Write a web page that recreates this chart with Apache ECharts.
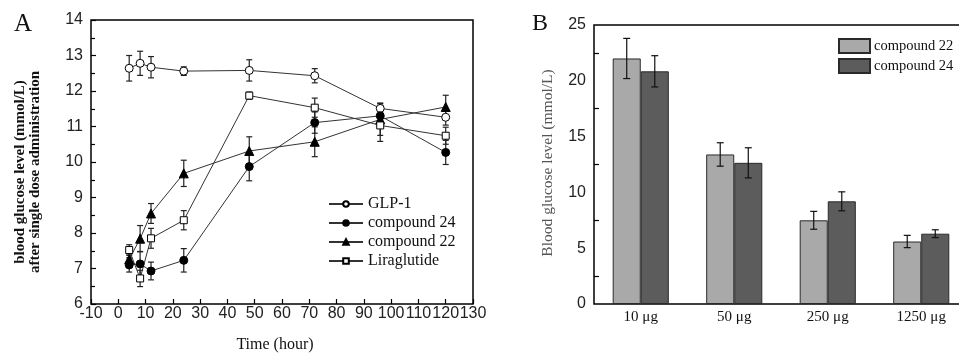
<!DOCTYPE html>
<html>
<head>
<meta charset="utf-8">
<script src="https://cdn.jsdelivr.net/npm/echarts@6/dist/echarts.min.js"></script>
<style>html,body{margin:0;padding:0;background:#fff}#c{width:959px;height:354px}</style>
</head>
<body>
<div id="c"></div>
<script>
// ---- Panel A data: time (hour), mean, error ----
const timesA = [4, 8, 12, 24, 48, 72, 96, 120];
const glp1 = [12.64, 12.78, 12.67, 12.56, 12.58, 12.43, 11.51, 11.26];
const glp1Err = [0.36, 0.34, 0.30, 0.12, 0.30, 0.20, 0.15, 0.22];
const cmp24 = [7.10, 7.13, 6.93, 7.23, 9.87, 11.11, 11.30, 10.27];
const cmp24Err = [0.20, 0.35, 0.25, 0.33, 0.40, 0.30, 0.30, 0.34];
const cmp22 = [7.26, 7.84, 8.55, 9.68, 10.31, 10.57, 11.20, 11.55];
const cmp22Err = [0.15, 0.37, 0.28, 0.37, 0.40, 0.42, 0.45, 0.33];
const lira = [7.52, 6.72, 7.85, 8.36, 11.87, 11.53, 11.03, 10.74];
const liraErr = [0.15, 0.23, 0.28, 0.27, 0.10, 0.27, 0.45, 0.24];
const namesA = ['GLP-1', 'compound 24', 'compound 22', 'Liraglutide'];

// ---- Panel B data ----
const dosesB = ['10 \u03bcg', '50 \u03bcg', '250 \u03bcg', '1250 \u03bcg'];
const b22 = [22.0, 13.4, 7.5, 5.6];
const b22Err = [1.8, 1.05, 0.8, 0.55];
const b24 = [20.85, 12.65, 9.2, 6.3];
const b24Err = [1.4, 1.35, 0.85, 0.35];
const namesB = ['compound 22', 'compound 24'];

const serif = '"Liberation Serif","Times New Roman",serif';
const sans = '"Liberation Sans",Arial,sans-serif';

function pts(xs, ys, es) { return xs.map((x, i) => [x, ys[i], es[i]]); }

function errA(data) {
  return {
    type: 'custom', xAxisIndex: 0, yAxisIndex: 0, z: 1, silent: true,
    data: data, encode: { x: 0, y: 1 },
    renderItem: function (params, api) {
      const x = api.value(0), y = api.value(1), e = api.value(2);
      const t = api.coord([x, y + e]), b = api.coord([x, y - e]);
      const w = 3;
      const st = { stroke: '#222', lineWidth: 1.2 };
      return { type: 'group', children: [
        { type: 'line', shape: { x1: t[0], y1: t[1], x2: b[0], y2: b[1] }, style: st },
        { type: 'line', shape: { x1: t[0] - w, y1: t[1], x2: t[0] + w, y2: t[1] }, style: st },
        { type: 'line', shape: { x1: b[0] - w, y1: b[1], x2: b[0] + w, y2: b[1] }, style: st }
      ]};
    }
  };
}

function errB(vals, errs, side) {
  return {
    type: 'custom', xAxisIndex: 1, yAxisIndex: 1, z: 5, silent: true,
    data: vals.map((v, i) => [i, v, errs[i]]), encode: { x: 0, y: 1 },
    renderItem: function (params, api) {
      const i = api.value(0), y = api.value(1), e = api.value(2);
      const band = api.size([1, 0])[0];
      const off = side * band * 0.15;
      const t = api.coord([i, y + e]), b = api.coord([i, y - e]);
      const cx = t[0] + off, w = 3.5;
      const st = { stroke: '#111', lineWidth: 1.2 };
      return { type: 'group', children: [
        { type: 'line', shape: { x1: cx, y1: t[1], x2: cx, y2: b[1] }, style: st },
        { type: 'line', shape: { x1: cx - w, y1: t[1], x2: cx + w, y2: t[1] }, style: st },
        { type: 'line', shape: { x1: cx - w, y1: b[1], x2: cx + w, y2: b[1] }, style: st }
      ]};
    }
  };
}

function lineS(name, data, symbol, size, filled) {
  return {
    name: name, type: 'line', xAxisIndex: 0, yAxisIndex: 0, z: 3,
    data: data.map(d => [d[0], d[1]]),
    symbol: symbol, symbolSize: size, showSymbol: true,
    lineStyle: { color: '#333', width: 1 },
    itemStyle: { color: filled ? '#000' : '#fff', borderColor: '#000', borderWidth: 1 },
    emphasis: { disabled: true }, animation: false
  };
}

const tickStyle = { color: '#000', width: 1.2 };
const chart = echarts.init(document.getElementById('c'));
chart.setOption({
  animation: false,
  backgroundColor: '#fff',
  grid: [
    { left: 91, top: 20, width: 382, height: 284, show: true, borderColor: '#000', borderWidth: 1.5,
      outerBoundsMode: 'none', containLabel: false },
    { left: 594, top: 25, width: 374, height: 279, show: true, borderColor: '#000', borderWidth: 1.5,
      outerBoundsMode: 'none', containLabel: false }
  ],
  xAxis: [
    { type: 'value', gridIndex: 0, min: -10, max: 130, interval: 10,
      axisLine: { show: false, onZero: false }, splitLine: { show: false },
      axisTick: { inside: true, length: 5, lineStyle: tickStyle },
      axisLabel: { fontFamily: sans, fontSize: 16, color: '#222', margin: 2 } },
    { type: 'category', gridIndex: 1, data: dosesB,
      axisLine: { show: false, onZero: false }, axisTick: { show: false }, splitLine: { show: false },
      axisLabel: { fontFamily: serif, fontSize: 15, color: '#111', margin: 6 } }
  ],
  yAxis: [
    { type: 'value', gridIndex: 0, min: 6, max: 14, interval: 1,
      axisLine: { show: false, onZero: false }, splitLine: { show: false },
      axisTick: { inside: true, length: 5, lineStyle: tickStyle },
      minorTick: { show: true, splitNumber: 2, length: 4, lineStyle: tickStyle },
      axisLabel: { fontFamily: sans, fontSize: 16, color: '#222', margin: 8 } },
    { type: 'value', gridIndex: 1, min: 0, max: 25, interval: 5,
      axisLine: { show: false, onZero: false }, splitLine: { show: false },
      axisTick: { inside: true, length: 5, lineStyle: tickStyle },
      minorTick: { show: true, splitNumber: 2, length: 5, lineStyle: tickStyle },
      axisLabel: { fontFamily: sans, fontSize: 16, color: '#222', margin: 8 } }
  ],
  legend: [
    { data: namesA, orient: 'vertical', left: 328, top: 196, padding: 0, itemWidth: 34, itemHeight: 7, itemGap: 3,
      selectedMode: false, textStyle: { fontFamily: serif, fontSize: 16, lineHeight: 16, color: '#111' } },
    { data: namesB.map(n => ({ name: 'B ' + n, icon: 'rect' })), orient: 'vertical', left: 838, top: 38, padding: 0,
      itemWidth: 31, itemHeight: 14, itemGap: 4,
      selectedMode: false, formatter: n => n.slice(2),
      textStyle: { fontFamily: serif, fontSize: 14.5, color: '#111', padding: [0, 0, 0, -1] } }
  ],
  series: [
    errA(pts(timesA, glp1, glp1Err)),
    errA(pts(timesA, cmp24, cmp24Err)),
    errA(pts(timesA, cmp22, cmp22Err)),
    errA(pts(timesA, lira, liraErr)),
    lineS(namesA[0], pts(timesA, glp1, glp1Err), 'circle', 8, false),
    lineS(namesA[1], pts(timesA, cmp24, cmp24Err), 'circle', 8, true),
    lineS(namesA[2], pts(timesA, cmp22, cmp22Err), 'triangle', 9, true),
    lineS(namesA[3], pts(timesA, lira, liraErr), 'rect', 7, false),
    { name: 'B ' + namesB[0], type: 'bar', xAxisIndex: 1, yAxisIndex: 1, data: b22,
      barWidth: '30%', barGap: '0%', z: 2,
      itemStyle: { color: '#a9a9a9', borderColor: '#2a2a2a', borderWidth: 1 } },
    { name: 'B ' + namesB[1], type: 'bar', xAxisIndex: 1, yAxisIndex: 1, data: b24,
      barWidth: '30%', barGap: '0%', z: 2,
      itemStyle: { color: '#5c5c5c', borderColor: '#2a2a2a', borderWidth: 1 } },
    errB(b22, b22Err, -1),
    errB(b24, b24Err, 1)
  ],
  graphic: [
    { type: 'text', left: 14, top: 12, style: { text: 'A', font: '25px ' + serif, fill: '#111' } },
    { type: 'text', left: 532, top: 12, style: { text: 'B', font: '24px ' + serif, fill: '#111' } },
    { type: 'text', x: 27.5, y: 172, rotation: Math.PI / 2,
      style: { text: 'blood glucose level (mmol/L)\nafter single dose administration', font: 'bold 15px ' + serif,
        fill: '#111', align: 'center', verticalAlign: 'middle', lineHeight: 15 } },
    { type: 'text', x: 275, y: 345,
      style: { text: 'Time (hour)', font: '16px ' + serif, fill: '#111', align: 'center', verticalAlign: 'middle' } },
    { type: 'text', x: 548, y: 163, rotation: Math.PI / 2,
      style: { text: 'Blood glucose level (mmol/L)', font: '15.5px ' + serif, fill: '#555', align: 'center', verticalAlign: 'middle' } }
  ]
});
</script>
</body>
</html>
